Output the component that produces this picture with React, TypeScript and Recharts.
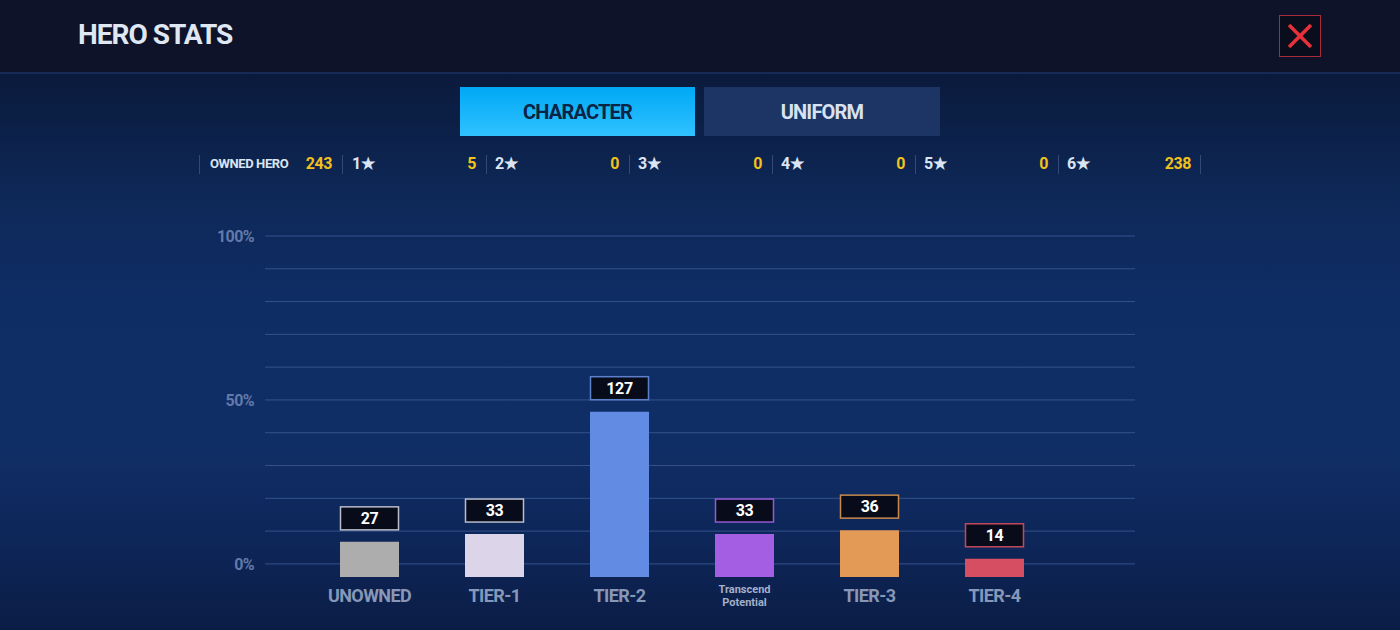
import React from 'react';
import { BarChart, Bar, XAxis, YAxis, CartesianGrid, LabelList, Cell } from 'recharts';

// hero tiers shown on the chart
const categories = ['UNOWNED', 'TIER-1', 'TIER-2', 'Transcend Potential', 'TIER-3', 'TIER-4'];
const heroCounts = [27, 33, 127, 33, 36, 14];

// percent axis: grid every 10%, labels only on these
const pctTicks = [0, 10, 20, 30, 40, 50, 60, 70, 80, 90, 100];
const pctLabels = [0, 50, 100];

// summary row
const ownedTotal = 243;
const starLabels = ['1★', '2★', '3★', '4★', '5★', '6★'];
const starCounts = [5, 0, 0, 0, 0, 238];

const BAR_COLORS = ['#adadad', '#dcd5ea', '#628ce4', '#a45ee4', '#e29a56', '#d64e62'];
const BOX_BORDERS = ['#b9bdca', '#b8bccb', '#5d80cc', '#9858d6', '#c88a4c', '#c4485c'];

const FONT = "Roboto, 'Liberation Sans Narrow', 'Noto Sans', sans-serif";

const data = categories.map((name, i) => ({ name, count: heroCounts[i] }));

const CategoryTick = ({ x, y, payload }: any) => {
  if (payload.value === 'Transcend Potential') {
    return (
      <text x={x} y={y} textAnchor="middle" fill="#a3b0c9" fontFamily={FONT} fontWeight={700} fontSize={11}>
        <tspan x={x} dy={16}>Transcend</tspan>
        <tspan x={x} dy={13}>Potential</tspan>
      </text>
    );
  }
  return (
    <text x={x} y={y + 25} textAnchor="middle" fill="#8797b8" fontFamily={FONT} fontWeight={700} fontSize={18} letterSpacing={-0.6}>
      {payload.value}
    </text>
  );
};

const CountBox = (props: any) => {
  const { x, y, width, value, index } = props;
  const cx = x + width / 2;
  const bottom = y - 12;
  return (
    <g>
      <rect x={cx - 29} y={bottom - 23} width={58} height={23} fill="#080c1a" stroke={BOX_BORDERS[index]} strokeWidth={1.5} />
      <text x={cx} y={bottom - 6} textAnchor="middle" fill="#ffffff" fontFamily={FONT} fontWeight={700} fontSize={16} letterSpacing={-0.4}>
        {value}
      </text>
    </g>
  );
};

const App: React.FC = () => {
  return (
    <div
      style={{
        position: 'fixed',
        left: 0,
        top: 0,
        width: 1400,
        height: 630,
        overflow: 'hidden',
        fontFamily: FONT,
        background: 'linear-gradient(to bottom, #0a1a3b 72px, #0e2858 200px, #0f2d65 300px, #102e66 450px, #0d2455 560px, #0b1d45 630px)'
      }}
    >
      {/* header */}
      <div style={{ position: 'absolute', left: 0, top: 0, width: 1400, height: 72, background: '#0e1329', borderBottom: '2px solid #172a55' }} />
      <div style={{ position: 'absolute', left: 78, top: 17, fontSize: 28, fontWeight: 700, color: '#dfe7f3', letterSpacing: -1, lineHeight: '36px' }}>HERO STATS</div>
      <div style={{ position: 'absolute', left: 1279, top: 15, width: 42, height: 42, border: '1px solid #a62c3a', background: '#0a0d1c', boxSizing: 'border-box' }}>
        <svg width={40} height={40}>
          <line x1={9} y1={9} x2={31} y2={31} stroke="#e8303a" strokeWidth={3.5} />
          <line x1={31} y1={9} x2={9} y2={31} stroke="#e8303a" strokeWidth={3.5} />
        </svg>
      </div>

      {/* tabs */}
      <div style={{ position: 'absolute', left: 460, top: 87, width: 235, height: 49, background: 'linear-gradient(to bottom, #00a8f6, #30c2ff)', color: '#0b2344', fontSize: 20, fontWeight: 700, letterSpacing: -0.8, display: 'flex', alignItems: 'center', justifyContent: 'center' }}>
        CHARACTER
      </div>
      <div style={{ position: 'absolute', left: 704, top: 87, width: 236, height: 49, background: '#1c3564', color: '#d8e2f0', fontSize: 20, fontWeight: 700, letterSpacing: -0.8, display: 'flex', alignItems: 'center', justifyContent: 'center' }}>
        UNIFORM
      </div>

      {/* summary row */}
      {[199, 342, 486, 629, 772, 915, 1058, 1200].map((sx) => (
        <div key={sx} style={{ position: 'absolute', left: sx, top: 155, width: 1, height: 19, background: '#34487a' }} />
      ))}
      <div style={{ position: 'absolute', left: 210, top: 154, fontSize: 13, fontWeight: 700, color: '#dbe4f2', letterSpacing: -0.4, lineHeight: '20px' }}>OWNED HERO</div>
      <div style={{ position: 'absolute', left: 260, top: 153, width: 72, textAlign: 'right', fontSize: 16, fontWeight: 700, color: '#f2c11c', letterSpacing: -0.4, lineHeight: '22px' }}>{ownedTotal}</div>
      {starLabels.map((label, i) => (
        <React.Fragment key={label}>
          <div style={{ position: 'absolute', left: 352 + i * 143, top: 153, fontSize: 16, fontWeight: 700, color: '#dbe4f2', lineHeight: '22px' }}>{label}</div>
          <div style={{ position: 'absolute', left: 396 + i * 143, top: 153, width: 80, textAlign: 'right', fontSize: 16, fontWeight: 700, color: '#f2c11c', letterSpacing: -0.4, lineHeight: '22px' }}>{starCounts[i]}</div>
        </React.Fragment>
      ))}

      {/* chart */}
      <div style={{ position: 'absolute', left: 0, top: 0 }}>
        <BarChart width={1400} height={630} data={data} margin={{ top: 236, right: 265, bottom: 13, left: 205 }} barSize={59}>
          <CartesianGrid yAxisId="pct" vertical={false} horizontalValues={pctTicks} stroke="#34528c" strokeWidth={1} />
          <XAxis
            dataKey="name"
            axisLine={false}
            tickLine={false}
            tickSize={0}
            tickMargin={0}
            height={40}
            interval={0}
            padding={{ left: 42, right: 78 }}
            tick={<CategoryTick />}
          />
          <YAxis
            yAxisId="pct"
            type="number"
            domain={[-4, 100]}
            allowDataOverflow
            ticks={pctTicks}
            width={60}
            axisLine={false}
            tickLine={false}
            tickSize={0}
            tickMargin={11}
            tick={{ fill: '#6279aa', fontSize: 16, fontWeight: 700, fontFamily: FONT, letterSpacing: -0.6 }}
            tickFormatter={(v: number) => (pctLabels.includes(v) ? `${v}%` : '')}
          />
          <YAxis yAxisId="count" type="number" domain={[0, 262]} width={0} hide />
          <Bar yAxisId="count" dataKey="count" isAnimationActive={false}>
            {data.map((d, i) => (
              <Cell key={d.name} fill={BAR_COLORS[i]} />
            ))}
            <LabelList dataKey="count" content={<CountBox />} />
          </Bar>
        </BarChart>
      </div>
    </div>
  );
};

export default App;
